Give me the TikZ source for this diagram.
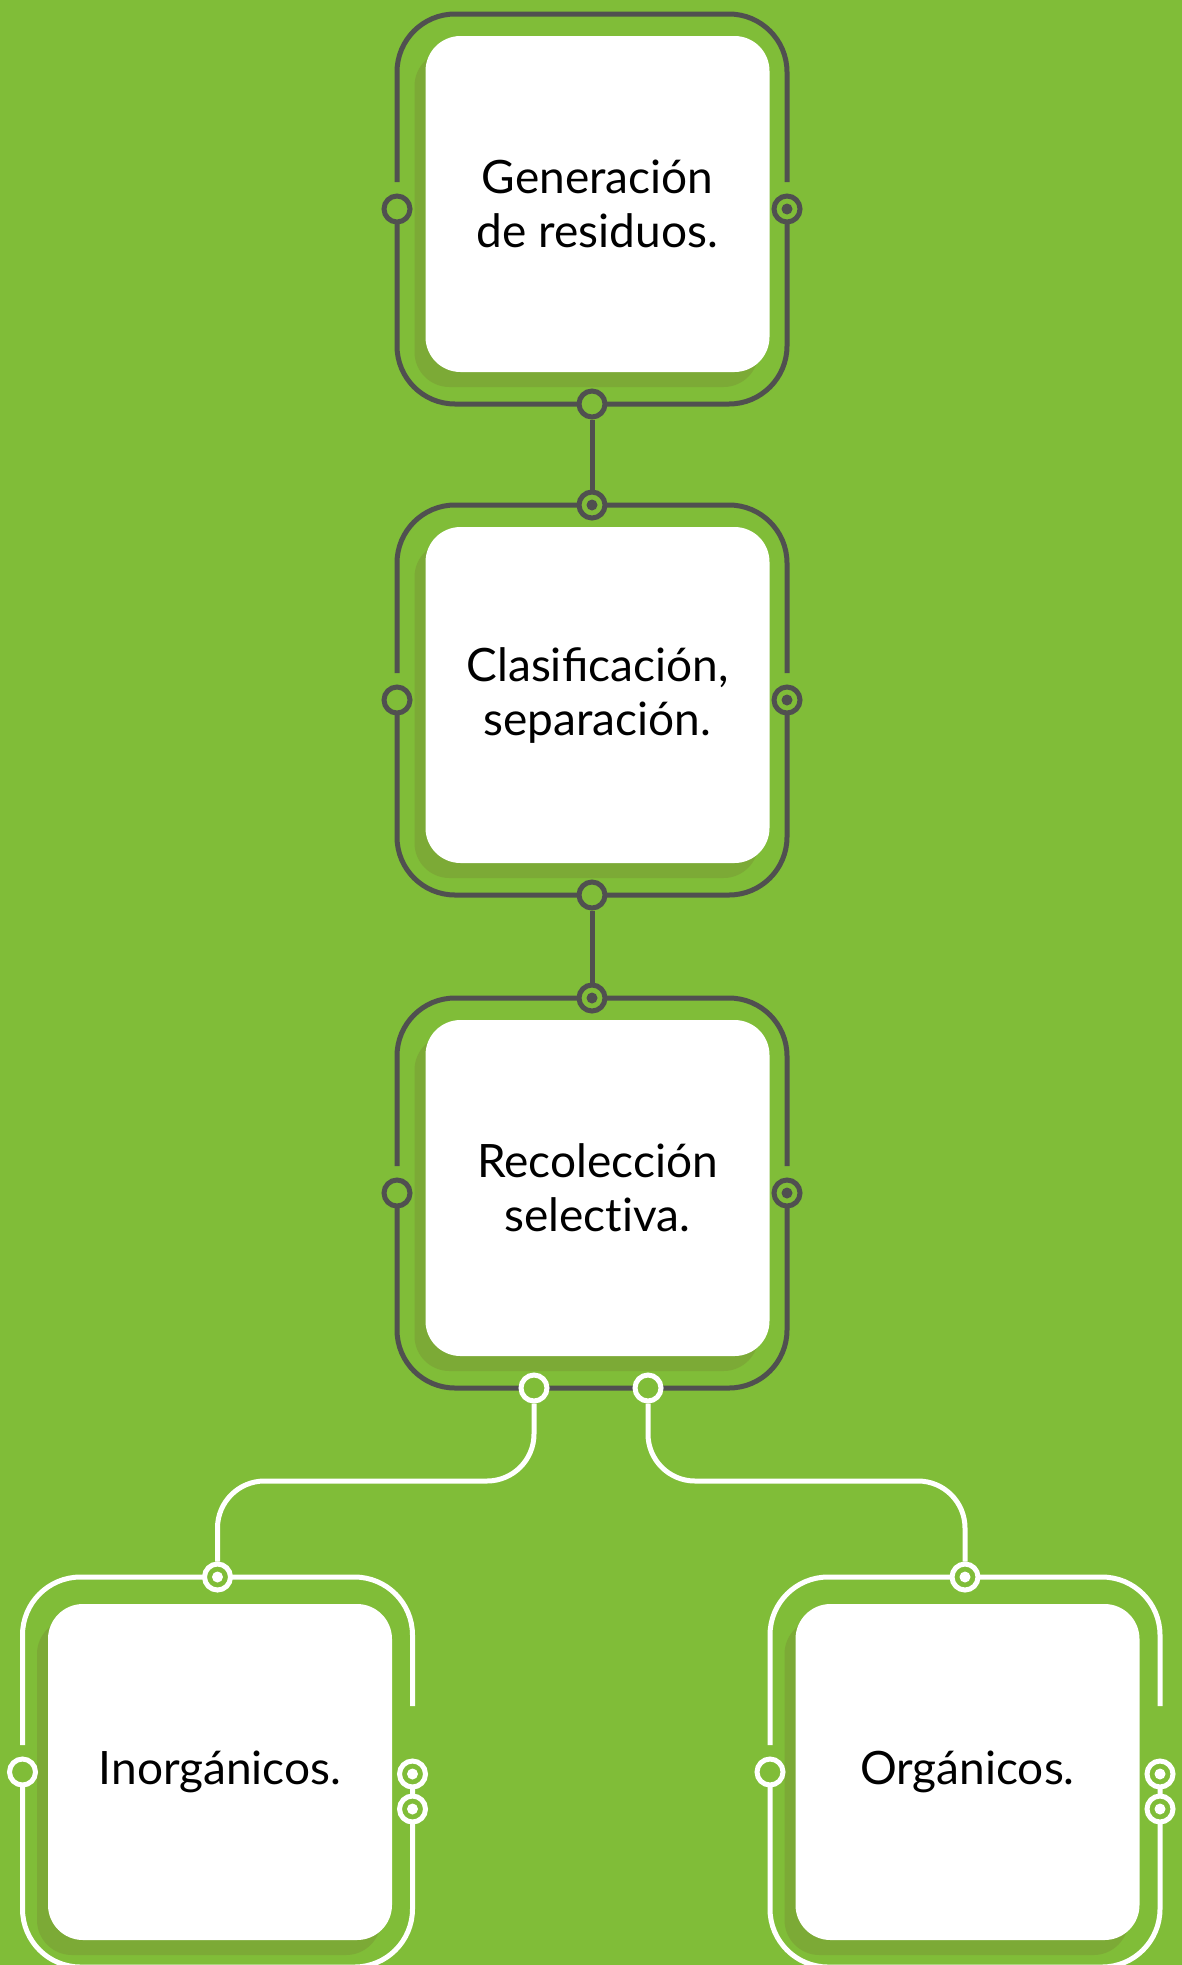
\documentclass[tikz,border=0pt]{standalone}
\usepackage{fontspec}
\setmainfont{Lato}
\usetikzlibrary{shadows}
\definecolor{bgc}{RGB}{128,189,56}
\definecolor{shc}{RGB}{124,170,54}
\definecolor{dkc}{RGB}{80,80,80}
\newcommand\myframe[5]{%
  \draw[#3, line width=5pt, rounded corners=58pt] (#1-195,#2-#4) -- (#1-195,#2-195) -- (#1+195,#2-195) -- (#1+195,#2-#5);
  \draw[#3, line width=5pt, rounded corners=58pt] (#1+195,#2) -- (#1+195,#2+195) -- (#1-195,#2+195) -- (#1-195,#2);
}
\tikzset{
  wbox/.style={rectangle, fill=white, rounded corners=35pt, minimum width=344pt, minimum height=336pt,
    inner sep=0pt, align=center, font=\fontsize{46pt}{54pt}\selectfont, text=black,
    drop shadow={shadow xshift=-11pt, shadow yshift=-15pt, fill=shc, opacity=1}},
  ring/.style={circle, draw, line width=5pt, minimum size=26pt, inner sep=0pt, fill=bgc},
  dring/.style={ring, draw=dkc},
  dringdot/.style={ring, draw=dkc, path picture={\fill[dkc] (path picture bounding box.center) circle (5.5pt);}},
  wring/.style={ring, draw=white},
  wringdot/.style={ring, draw=white, path picture={\fill[white] (path picture bounding box.center) circle (5.5pt);}},
  dline/.style={draw=dkc, line width=5pt},
  wline/.style={draw=white, line width=5pt},
}
\begin{document}
\begin{tikzpicture}[x=1pt,y=-1pt]
\useasboundingbox (0,0) rectangle (1182,1965);
\fill[bgc] (0,0) rectangle (1182,1965);
% frames
\myframe{592}{209}{dkc}{27}{27}
\myframe{592}{700}{dkc}{27}{27}
\myframe{592}{1193}{dkc}{27}{27}
\myframe{217.5}{1772}{white}{27}{66}
\myframe{965}{1772}{white}{27}{66}
% white boxes
\node[wbox] (w1) at (597.5,204) {Generación\\de residuos.};
\node[wbox] (w2) at (597.5,695) {Clasificación,\\separación.};
\node[wbox] (w3) at (597.5,1188) {Recolección\\select\kern0pt iva.};
\node[wbox] (w4) at (220,1772) {Inorgánicos.};
\node[wbox] (w5) at (967.5,1772) {Orgánicos.};
% rings box 1
\node[dring] (r1l) at (397,209) {};
\node[dringdot] (r1r) at (787,209) {};
\node[dring] (r1b) at (592,404) {};
% rings box 2
\node[dringdot] (r2t) at (592,505) {};
\node[dring] (r2l) at (397,700) {};
\node[dringdot] (r2r) at (787,700) {};
\node[dring] (r2b) at (592,895) {};
% rings box 3
\node[dringdot] (r3t) at (592,998) {};
\node[dring] (r3l) at (397,1193) {};
\node[dringdot] (r3r) at (787,1193) {};
\node[wring] (r3bl) at (534,1388) {};
\node[wring] (r3br) at (648,1388) {};
% rings box 4
\node[wringdot] (r4t) at (217.5,1577) {};
\node[wring] (r4l) at (22.5,1772) {};
\node[wringdot] (r4r1) at (412.5,1774) {};
\node[wringdot] (r4r2) at (412.5,1809) {};
% rings box 5
\node[wringdot] (r5t) at (965,1577) {};
\node[wring] (r5l) at (770,1772) {};
\node[wringdot] (r5r1) at (1160,1774) {};
\node[wringdot] (r5r2) at (1160,1809) {};
% connectors
\draw[dline] (r1b) -- (r2t);
\draw[dline] (r2b) -- (r3t);
\coordinate (hl) at (0,1481);
\draw[wline, rounded corners=47pt] (r3bl) -- (r3bl |- hl) -- (r4t |- hl) -- (r4t);
\draw[wline, rounded corners=47pt] (r3br) -- (r3br |- hl) -- (r5t |- hl) -- (r5t);
\end{tikzpicture}
\end{document}
